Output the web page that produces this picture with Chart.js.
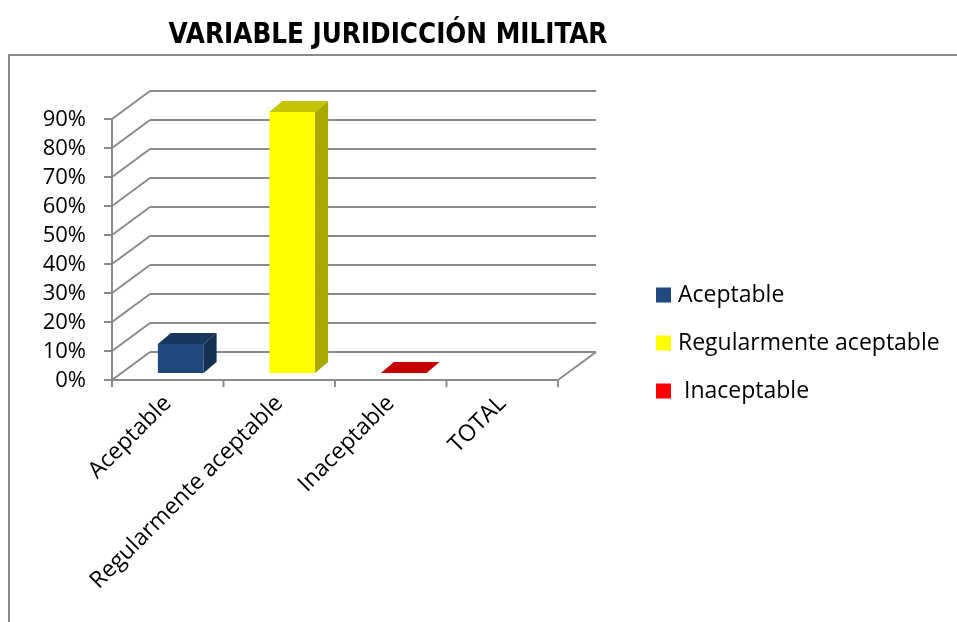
<!DOCTYPE html>
<html>
<head>
<meta charset="utf-8">
<script src="https://cdn.jsdelivr.net/npm/chart.js@4.4.1/dist/chart.umd.min.js"></script>
<style>
  html, body { margin: 0; padding: 0; background: #fff; }
  #wrap { width: 957px; height: 622px; position: relative; }
</style>
</head>
<body>
<div id="wrap"><canvas id="grafico"></canvas></div>
<script>
const titulo = "VARIABLE JURIDICCIÓN MILITAR";
const categorias = ["Aceptable", "Regularmente aceptable", "Inaceptable", "TOTAL"];
const porcentajes = [10, 90, 0, null];
const ticksY = [0, 10, 20, 30, 40, 50, 60, 70, 80, 90];
const leyenda = ["Aceptable", "Regularmente aceptable", " Inaceptable"];
const colores = ["#1F497D", "#FFFF00", "#FF0000", "#1F497D"];

// profundidad de las paredes y de las barras (px)
const DX = 38, DY = 28;
const BAR_SHIFT = 13, BAR_LIFT = 7, BAR_DX = 13, BAR_DY = 11;
const gris = "#8a8a8a";

function oscurecer(hex, f) {
    const n = parseInt(hex.slice(1), 16);
    const r = Math.round(((n >> 16) & 255) * f);
    const g = Math.round(((n >> 8) & 255) * f);
    const b = Math.round((n & 255) * f);
    return `rgb(${r},${g},${b})`;
}

function linea(ctx, x1, y1, x2, y2) {
    ctx.beginPath();
    ctx.moveTo(x1, y1);
    ctx.lineTo(x2, y2);
    ctx.stroke();
}

function poligono(ctx, pts, color) {
    ctx.fillStyle = color;
    ctx.beginPath();
    ctx.moveTo(pts[0][0], pts[0][1]);
    pts.slice(1).forEach(p => ctx.lineTo(p[0], p[1]));
    ctx.closePath();
    ctx.fill();
}

const efecto3d = {
    id: "efecto3d",
    beforeDraw(chart) {
        const ctx = chart.ctx;
        ctx.save();
        // marco
        ctx.strokeStyle = gris;
        ctx.lineWidth = 2;
        ctx.beginPath();
        ctx.moveTo(9, chart.height);
        ctx.lineTo(9, 55);
        ctx.lineTo(chart.width, 55);
        ctx.stroke();
        // titulo
        ctx.fillStyle = "#000";
        ctx.font = 'bold 27.5px "Liberation Sans Narrow", "DejaVu Sans Condensed", "Liberation Sans"';
        ctx.textAlign = "center";
        ctx.textBaseline = "alphabetic";
        ctx.fillText(titulo, 388, 43);
        ctx.restore();
    },
    beforeDatasetsDraw(chart) {
        const ctx = chart.ctx;
        const { left, right, bottom } = chart.chartArea;
        const y = chart.scales.y;
        const x = chart.scales.x;
        ctx.save();
        ctx.strokeStyle = gris;
        ctx.lineWidth = 2;
        ticksY.forEach(v => {
            const py = y.getPixelForValue(v);
            linea(ctx, left + DX, py - DY, right + DX, py - DY);
            linea(ctx, left, py, left + DX, py - DY);
            linea(ctx, left - 8, py, left, py);
        });
        linea(ctx, left, y.getPixelForValue(ticksY[ticksY.length - 1]), left, bottom);
        linea(ctx, left, bottom, right, bottom);
        linea(ctx, right, bottom, right + DX, bottom - DY);
        const paso = x.getPixelForValue(1) - x.getPixelForValue(0);
        for (let i = 0; i <= categorias.length; i++) {
            const px = x.getPixelForValue(0) - paso / 2 + i * paso;
            linea(ctx, px, bottom, px, bottom + 7);
        }
        ctx.restore();
    },
    beforeDatasetDraw() {
        return false;
    },
    afterDatasetsDraw(chart) {
        const ctx = chart.ctx;
        const meta = chart.getDatasetMeta(0);
        ctx.save();
        meta.data.forEach((el, i) => {
            if (porcentajes[i] == null) return;
            const { x, y, base, width } = el.getProps(["x", "y", "base", "width"], true);
            const x0 = x - width / 2 + BAR_SHIFT;
            const x1 = x + width / 2 + BAR_SHIFT;
            const top = y - BAR_LIFT;
            const bot = base - BAR_LIFT;
            const c = colores[i];
            if (bot - top > 0) {
                ctx.fillStyle = c;
                ctx.fillRect(x0, top, x1 - x0, bot - top);
                poligono(ctx, [[x1, top], [x1 + BAR_DX, top - BAR_DY], [x1 + BAR_DX, bot - BAR_DY], [x1, bot]], oscurecer(c, 0.66));
            }
            poligono(ctx, [[x0, top], [x0 + BAR_DX, top - BAR_DY], [x1 + BAR_DX, top - BAR_DY], [x1, top]], oscurecer(c, 0.77));
        });
        ctx.restore();
    },
    afterDraw(chart) {
        const ctx = chart.ctx;
        ctx.save();
        ctx.font = '23px "Open Sans"';
        ctx.textAlign = "left";
        ctx.textBaseline = "alphabetic";
        leyenda.forEach((nombre, i) => {
            const base = 302 + i * 48;
            ctx.fillStyle = colores[i];
            ctx.fillRect(656, base - 14.5, 15, 15);
            ctx.fillStyle = "#000";
            ctx.fillText(nombre, 678, base);
        });
        ctx.restore();
    }
};

Chart.defaults.color = "#000";
Chart.defaults.font.family = '"Open Sans", sans-serif';

new Chart(document.getElementById("grafico"), {
    type: "bar",
    data: {
        labels: categorias,
        datasets: [{
            label: titulo,
            data: porcentajes,
            backgroundColor: colores,
            categoryPercentage: 1,
            barPercentage: 0.41
        }]
    },
    options: {
        responsive: true,
        maintainAspectRatio: false,
        animation: false,
        layout: { padding: { top: 119, right: 399, bottom: 0, left: 0 } },
        plugins: {
            legend: { display: false },
            title: { display: false },
            tooltip: { enabled: false }
        },
        scales: {
            x: {
                grid: { display: false, drawTicks: false },
                border: { display: false },
                ticks: {
                    autoSkip: false,
                    minRotation: 45,
                    maxRotation: 45,
                    padding: 10,
                    font: { size: 23 }
                },
                afterFit: s => { s.height = 242; }
            },
            y: {
                min: 0,
                max: 90,
                grid: { display: false, drawTicks: false },
                border: { display: false },
                ticks: {
                    autoSkip: false,
                    stepSize: 10,
                    padding: 26,
                    labelOffset: 1,
                    font: { size: 22 },
                    callback: v => v + "%"
                },
                afterFit: s => { s.width = 112; }
            }
        }
    },
    plugins: [efecto3d]
});
</script>
</body>
</html>
